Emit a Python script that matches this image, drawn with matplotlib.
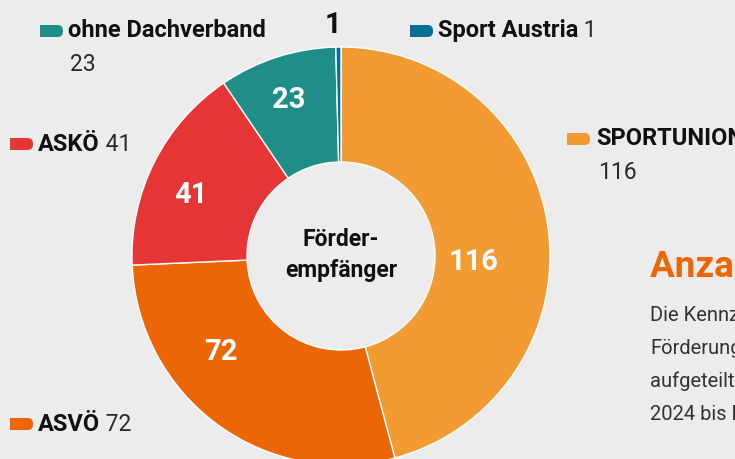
import matplotlib
matplotlib.use("Agg")
import matplotlib.pyplot as plt
from matplotlib.patches import FancyBboxPatch
import numpy as np

# ---- data ----
categories = ["SPORTUNION", "ASVÖ", "ASKÖ", "ohne Dachverband", "Sport Austria"]
values = [116, 72, 41, 23, 1]
colors = ["#f29b32", "#ec6608", "#e63535", "#1f8e88", "#036f96"]
center_label = "Förder-\nempfänger"
title = "Anzahl der Förderempfänger"
body_lines = ["Die Kennzahl zeigt die Anzahl der",
              "Förderungsempfänger",
              "aufgeteilt nach Dachverband",
              "2024 bis Dezember"]

# ---- layout / style ----
W, H = 735, 459
BG = "#ececec"
FONT = "Roboto"
plt.rcParams['font.family'] = [FONT, 'DejaVu Sans']

fig = plt.figure(figsize=(W / 100, H / 100), dpi=100)
fig.patch.set_facecolor(BG)
ax = fig.add_axes([0, 0, 1, 1])
ax.set_facecolor(BG)

def Y(y):
    return H - y

cx, cy = 341, Y(256)
R_out, R_in = 209, 94

wedges, _ = ax.pie(values, colors=colors, startangle=90, counterclock=False,
                   radius=R_out, center=(cx, cy),
                   wedgeprops=dict(width=R_out - R_in, edgecolor="white", linewidth=1.0))
ax.set_xlim(0, W)
ax.set_ylim(0, H)
ax.set_aspect("equal")
ax.axis("off")

# wedge value labels (placed by wedge angle)
label_shift = [-10.0, -15.0, 4.5, 0.8, 1.3]
label_r = [133, 154, 162, 165, 231]
label_col = ["white", "white", "white", "white", "#111111"]
for w, v, sh, r, c in zip(wedges, values, label_shift, label_r, label_col):
    mid = np.deg2rad((w.theta1 + w.theta2) / 2 + sh)
    ax.text(cx + r * np.cos(mid), cy + r * np.sin(mid), str(v),
            ha="center", va="center", color=c, fontsize=21, fontweight="bold")

ax.text(cx, cy + 1, center_label, ha="center", va="center", fontsize=16.5,
        fontweight="bold", color="#111111", linespacing=1.45)

# legend entries: (marker x, marker top y, text x, baseline y, value on next line?)
legend_pos = {
    "SPORTUNION": (567, 133, 596, 145, True),
    "ASVÖ": (10, 418, 38, 431, False),
    "ASKÖ": (10, 138, 38, 151, False),
    "ohne Dachverband": (40, 25, 68, 37, True),
    "Sport Austria": (410, 25, 438, 37, False),
}
for cat, v, col in zip(categories, values, colors):
    mx, my, tx, by, newline = legend_pos[cat]
    ax.add_patch(FancyBboxPatch((mx, Y(my + 12)), 23, 12,
                                boxstyle="round,pad=0,rounding_size=5.5",
                                fc=col, ec="none"))
    ax.add_patch(plt.Rectangle((mx, Y(my + 12)), 12, 12, fc=col, ec="none"))
    t = ax.text(tx, Y(by), cat, ha="left", va="baseline", fontsize=17,
                fontweight="bold", color="#111111")
    if newline:
        ax.text(tx + 2, Y(by + 34), str(v), ha="left", va="baseline",
                fontsize=16.5, fontweight="normal", color="#2a2a2a")
    else:
        ax.annotate(" " + str(v), xy=(1, 0), xycoords=t, ha="left", va="bottom",
                    fontsize=16.5, fontweight="normal", color="#2a2a2a")

# right-hand text (cut off by figure edge, as in the reference)
ax.text(650, Y(277), title, ha="left", va="baseline", fontsize=26.5,
        fontweight="bold", color="#ec6608")
for i, line in enumerate(body_lines):
    ax.text(650, Y(321 + i * 33), line, ha="left", va="baseline", fontsize=14.5,
            fontweight="normal", color="#333333")

fig.savefig("out.png", dpi=100, facecolor=BG)
